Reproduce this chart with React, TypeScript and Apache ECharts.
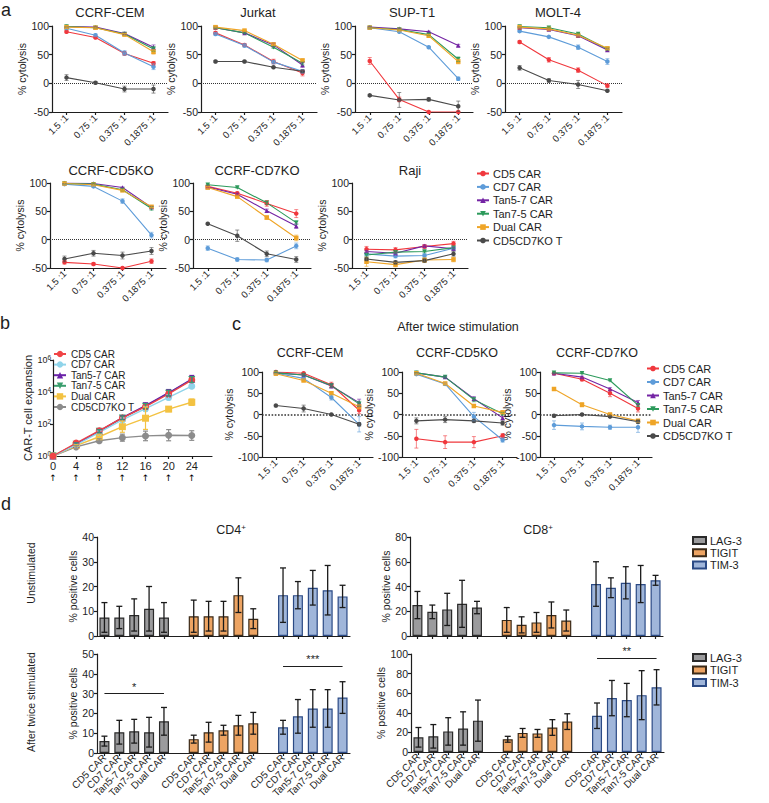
import React, { useEffect, useRef } from "react";
import * as echarts from "echarts";

const FONT = "'Liberation Sans', Arial, Helvetica, sans-serif";
const INK = "#1e1e1e";

// ---------- shared ----------
const ratios = ["1.5 :1", "0.75 :1", "0.375 :1", "0.1875 :1"];
const carGroups = ["CD5 CAR", "CD7 CAR", "Tan5-7 CAR", "Tan7-5 CAR", "Dual CAR", "CD5CD7KO T"];
const colorsA = ["#f0383d", "#5e9cd9", "#7424a4", "#2c9a5b", "#efa527", "#4a4a4a"];
const colorsB = ["#f04446", "#8fd4ea", "#6a22a8", "#3a9e6e", "#f3c242", "#8c8c8c"];
const lineSymbols = ["circle", "circle", "triangle", "triangle", "rect", "circle"];
const symbolRotations = [0, 0, 0, 180, 0, 0];

// ---------- panel a (% cytolysis, rows = carGroups, cols = ratios) ----------
const aCEM = [[90, 80, 52, 35], [96, 84, 53, 29], [99, 98, 87, 63], [99, 97, 86, 60], [98, 97, 85, 55], [10, 1, -10, -10]];
const aCEMErr = [[2, 2, 3, 3], [2, 2, 4, 5], [1, 1, 2, 4], [1, 1, 2, 4], [1, 1, 2, 4], [5, 2, 5, 7]];
const aJurkat = [[88, 67, 38, 18], [86, 66, 37, 21], [97, 88, 67, 32], [97, 88, 63, 35], [98, 92, 68, 40], [38, 38, 28, 21]];
const aJurkatErr = [[2, 2, 4, 5], [2, 3, 3, 3], [1, 1, 3, 4], [1, 1, 2, 3], [1, 1, 2, 2], [2, 2, 1, 2]];
const aSUPT1 = [[39, -28, -50, -50], [97, 90, 63, 8], [98, 95, 90, 66], [97, 94, 85, 42], [97, 93, 83, 38], [-21, -29, -28, -40]];
const aSUPT1Err = [[6, 4, 0, 0], [2, 1, 1, 3], [1, 1, 1, 2], [1, 1, 2, 4], [1, 1, 2, 4], [2, 13, 3, 9]];
const aMOLT4 = [[72, 41, 23, -4], [91, 81, 63, 38], [97, 94, 83, 58], [99, 97, 86, 60], [98, 95, 84, 61], [27, 5, -2, -13]];
const aMOLT4Err = [[2, 4, 4, 3], [1, 1, 4, 5], [1, 1, 1, 2], [1, 1, 1, 2], [1, 1, 1, 2], [4, 3, 7, 1]];
const aCD5KO = [[-40, -43, -50, -38], [98, 94, 68, 8], [100, 99, 92, 57], [99, 98, 88, 55], [99, 97, 87, 58], [-34, -24, -28, -20]];
const aCD5KOErr = [[3, 2, 1, 4], [1, 1, 4, 5], [1, 1, 1, 2], [1, 1, 2, 3], [1, 1, 1, 2], [5, 5, 6, 6]];
const aCD7KO = [[94, 82, 64, 46], [-15, -35, -36, -11], [93, 80, 51, 24], [97, 92, 65, 30], [92, 76, 39, 3], [28, 7, -25, -35]];
const aCD7KOErr = [[2, 2, 5, 7], [4, 3, 3, 5], [2, 2, 3, 4], [1, 1, 3, 3], [2, 2, 3, 5], [1, 10, 5, 5]];
const aRaji = [[-17, -18, -12, -7], [-25, -29, -28, -15], [-21, -24, -11, -16], [-27, -22, -21, -14], [-39, -44, -36, -35], [-34, -40, -37, -25]];
const aRajiErr = [[5, 4, 3, 4], [3, 3, 3, 3], [2, 2, 2, 2], [2, 2, 2, 2], [8, 4, 4, 4], [3, 3, 3, 4]];

// ---------- panel b (CAR-T cell expansion, fold) ----------
const bDays = [0, 4, 8, 12, 16, 20, 24];
const bExpansion = [
  [1, 6.5, 38, 240, 1200, 7500, 56000],
  [1, 5, 30, 180, 900, 4600, 23000],
  [1, 5.5, 36, 250, 1400, 9000, 65000],
  [1, 5.5, 35, 240, 1300, 8500, 60000],
  [1, 4.5, 16, 68, 230, 850, 2300],
  [1, 3.7, 9, 14, 18, 20, 19],
];
const bLogErr = [
  [0, 0.08, 0.1, 0.12, 0.15, 0.18, 0.15],
  [0, 0.06, 0.1, 0.12, 0.15, 0.15, 0.12],
  [0, 0.08, 0.1, 0.12, 0.18, 0.2, 0.22],
  [0, 0.08, 0.1, 0.12, 0.16, 0.18, 0.18],
  [0, 0.05, 0.15, 0.35, 0.7, 0.15, 0.2],
  [0, 0.08, 0.12, 0.22, 0.3, 0.35, 0.3],
];

// ---------- panel c (after twice stimulation) ----------
const cCEM = [[100, 97, 70, 10], [97, 85, 40, -23], [98, 93, 67, 28], [98, 93, 68, 25], [96, 80, 50, 18], [21, 14, 0, -23]];
const cCEMErr = [[2, 3, 6, 8], [2, 3, 6, 18], [1, 2, 5, 8], [1, 2, 4, 6], [1, 2, 3, 5], [3, 8, 1, 4]];
const cCD5KO = [[-57, -65, -65, -50], [95, 72, -5, -60], [98, 88, 37, -8], [98, 88, 35, 2], [97, 73, 20, 5], [-15, -12, -15, -20]];
const cCD5KOErr = [[22, 15, 13, 5], [2, 3, 10, 5], [1, 2, 5, 4], [1, 2, 5, 3], [1, 2, 3, 3], [7, 7, 4, 5]];
const cCD7KO = [[97, 83, 50, 14], [-25, -28, -30, -30], [97, 88, 60, 28], [98, 97, 80, 22], [60, 23, 0, -15], [-3, 0, -5, -17]];
const cCD7KOErr = [[2, 4, 8, 8], [10, 8, 5, 12], [1, 2, 3, 5], [1, 1, 1, 3], [2, 5, 3, 4], [3, 2, 2, 4]];

// ---------- panel d (% positive cells; rows = LAG-3, TIGIT, TIM-3) ----------
const dCats = ["CD5 CAR", "CD7 CAR", "Tan5-7 CAR", "Tan7-5 CAR", "Dual CAR"];
const dMarkers = ["LAG-3", "TIGIT", "TIM-3"];
const cd4UnMean = [[7.5, 7.5, 8.5, 11, 7.5], [8, 8, 8, 16.5, 7], [16.5, 16.5, 19.5, 18.5, 16]];
const cd4UnSD = [[6, 4.5, 6.5, 9, 6], [6.5, 6, 6, 7, 4], [11, 5.5, 7, 10, 4.5]];
const cd8UnMean = [[25, 19.5, 21.5, 26, 23], [13, 9, 11, 17, 12.5], [42, 39, 43, 42, 45]];
const cd8UnSD = [[11, 5.5, 13, 19, 5], [10, 6.5, 8, 10.5, 8.5], [18, 8, 13, 15, 4]];
const cd4AfMean = [[6, 10.5, 11, 10.5, 16], [7, 10.5, 11.5, 14, 15], [13, 18.5, 22.5, 22.5, 28]];
const cd4AfSD = [[2.5, 6, 6, 7.5, 7], [2, 5, 2.5, 5, 5.5], [3.5, 8.5, 9.5, 9.5, 8]];
const cd8AfMean = [[15, 16, 21, 24, 32], [13, 19.5, 19, 25, 31], [37, 55, 53, 58, 66]];
const cd8AfSD = [[10, 12, 14, 17, 21], [3, 4.5, 4, 8, 8], [13, 18, 17, 25, 18]];
const sigCD4After = [{ from: 0, to: 4, y: 30, text: "*" }, { from: 12, to: 16, y: 44, text: "***" }];
const sigCD8After = [{ from: 12, to: 16, y: 96, text: "**" }];

const barFill = ["#9b9b9d", "#eda463", "#a0b6da"];
const barBorder = ["#2a2a2a", "#3b2a18", "#2b4a85"];

function buildOption() {
  const grids: any[] = [];
  const xAxes: any[] = [];
  const yAxes: any[] = [];
  const series: any[] = [];
  const axLine = { color: INK, width: 1.2 };

  const addGrid = (left: number, top: number, width: number, height: number) => {
    grids.push({ left, top, width, height, containLabel: false, outerBoundsMode: "none" });
    return grids.length - 1;
  };

  const errSeries = (g: number, pts: number[][], color: string, cap: number, width: number) => ({
    type: "custom",
    xAxisIndex: g,
    yAxisIndex: g,
    data: pts.filter((p) => p[2] - p[1] > 0),
    clip: true,
    silent: true,
    z: 4,
    encode: { x: 0, y: [1, 2] },
    renderItem: (_params: any, api: any) => {
      const x = api.value(0);
      const a = api.coord([x, api.value(2)]);
      const b = api.coord([x, api.value(1)]);
      const st = { stroke: color, lineWidth: width };
      return {
        type: "group",
        children: [
          { type: "line", shape: { x1: a[0], y1: a[1], x2: b[0], y2: b[1] }, style: st },
          { type: "line", shape: { x1: a[0] - cap, y1: a[1], x2: a[0] + cap, y2: a[1] }, style: st },
          { type: "line", shape: { x1: b[0] - cap, y1: b[1], x2: b[0] + cap, y2: b[1] }, style: st },
        ],
      };
    },
  });

  const valueY = (g: number, min: number, max: number, interval: number, name: string, nameGap: number) => ({
    type: "value",
    gridIndex: g,
    min,
    max,
    interval,
    name,
    nameLocation: "middle",
    nameGap,
    nameRotate: 90,
    nameTextStyle: { fontSize: 10.5, color: INK, fontFamily: FONT },
    axisLine: { show: true, lineStyle: axLine },
    axisTick: { show: true, length: 3, lineStyle: axLine },
    axisLabel: { fontSize: 10.5, color: INK, margin: 3, fontFamily: FONT },
    splitLine: { show: false },
  });

  const cytoPanel = (
    left: number, top: number, width: number, height: number, yMin: number,
    vals: number[][], errs: number[][], nameGap: number, zeroWidth: number
  ) => {
    const g = addGrid(left, top, width, height);
    xAxes.push({
      type: "category",
      gridIndex: g,
      data: ratios,
      boundaryGap: true,
      axisLine: { onZero: false, lineStyle: axLine },
      axisTick: { show: true, alignWithLabel: true, length: 3, lineStyle: axLine },
      axisLabel: { rotate: 45, interval: 0, fontSize: 9.5, color: INK, margin: 4, fontFamily: FONT },
      splitLine: { show: false },
    });
    yAxes.push(valueY(g, yMin, 100, 50, "% cytolysis", nameGap));
    vals.forEach((row, j) => {
      series.push({
        type: "line",
        name: carGroups[j],
        xAxisIndex: g,
        yAxisIndex: g,
        data: row,
        symbol: lineSymbols[j],
        symbolRotate: symbolRotations[j],
        symbolSize: 4.5,
        itemStyle: { color: colorsA[j] },
        lineStyle: { color: colorsA[j], width: 1.1 },
        z: 3,
        markLine: j === 0 ? {
          silent: true,
          symbol: ["none", "none"],
          label: { show: false },
          lineStyle: { type: "dotted", color: "#333", width: zeroWidth },
          data: [{ yAxis: 0 }],
          z: 1,
        } : undefined,
      });
      series.push(errSeries(g, row.map((v, i) => [i, v - errs[j][i], v + errs[j][i]]), colorsA[j] + "99", 2, 1));
    });
  };

  // panel a
  cytoPanel(52, 26, 116, 86, -50, aCEM, aCEMErr, 19, 1);
  cytoPanel(201, 26, 116, 86, -50, aJurkat, aJurkatErr, 19, 1);
  cytoPanel(355, 26, 118, 86, -50, aSUPT1, aSUPT1Err, 19, 1);
  cytoPanel(505, 26, 117, 86, -50, aMOLT4, aMOLT4Err, 19, 1);
  cytoPanel(50, 183, 116, 85, -50, aCD5KO, aCD5KOErr, 19, 1);
  cytoPanel(193, 183, 118, 85, -50, aCD7KO, aCD7KOErr, 19, 1);
  cytoPanel(352, 183, 116, 85, -50, aRaji, aRajiErr, 19, 1);

  // panel b
  const gb = addGrid(53, 360, 159, 96);
  xAxes.push({
    type: "value",
    gridIndex: gb,
    min: 0,
    max: 27.5,
    interval: 4,
    axisLine: { onZero: false, lineStyle: axLine },
    axisTick: { show: true, length: 3, lineStyle: axLine, customValues: bDays },
    axisLabel: {
      customValues: bDays,
      color: INK,
      margin: 3,
      formatter: (v: number) => `{n|${v}}\n{a|↑}`,
      rich: {
        n: { fontSize: 11, lineHeight: 13, color: INK },
        a: { fontSize: 9, lineHeight: 12, color: "#000", fontFamily: "'DejaVu Sans', sans-serif" },
      },
    },
    splitLine: { show: false },
  });
  yAxes.push({
    type: "log",
    logBase: 100,
    gridIndex: gb,
    min: 1,
    max: 1e6,
    name: "CAR-T cell expansion",
    nameLocation: "middle",
    nameGap: 17,
    nameRotate: 90,
    nameTextStyle: { fontSize: 11, color: INK, fontFamily: FONT },
    axisLine: { show: true, lineStyle: axLine },
    axisTick: { show: true, length: 3, lineStyle: axLine },
    minorTick: { show: false },
    axisLabel: {
      color: INK,
      margin: 2,
      fontSize: 9,
      formatter: (v: number) => `10{s|${Math.round(Math.log10(v))}}`,
      rich: { s: { fontSize: 6.5, verticalAlign: "top", color: INK, padding: [0, 0, 5, 0] } },
    },
    splitLine: { show: false },
  });
  bExpansion.forEach((row, j) => {
    series.push({
      type: "line",
      name: carGroups[j],
      xAxisIndex: gb,
      yAxisIndex: gb,
      data: row.map((v, i) => [bDays[i], v]),
      symbol: lineSymbols[j],
      symbolRotate: symbolRotations[j],
      symbolSize: 7,
      itemStyle: { color: colorsB[j] },
      lineStyle: { color: colorsB[j], width: 1.4 },
      z: 3 + (5 - j) * 0.01,
    });
    series.push(
      errSeries(
        gb,
        row.map((v, i) => [bDays[i], v / Math.pow(10, bLogErr[j][i]), v * Math.pow(10, bLogErr[j][i])]),
        colorsB[j],
        2.5,
        1.2
      )
    );
  });

  // panel c
  cytoPanel(262, 372, 111, 85, -100, cCEM, cCEMErr, 18, 1.6);
  cytoPanel(402, 372, 115, 85, -100, cCD5KO, cCD5KOErr, 18, 1.6);
  cytoPanel(540, 372, 112, 85, -100, cCD7KO, cCD7KOErr, 18, 1.6);

  // panel d
  const barSlots: string[] = [...dCats, "", ...dCats, "", ...dCats];
  const barPanel = (
    left: number, top: number, width: number, height: number, yMax: number, yInterval: number,
    means: number[][], sds: number[][], showLabels: boolean, nameGap: number, sig: any[]
  ) => {
    const g = addGrid(left, top, width, height);
    xAxes.push({
      type: "category",
      gridIndex: g,
      data: barSlots,
      boundaryGap: true,
      axisLine: { onZero: false, lineStyle: axLine },
      axisTick: { show: true, alignWithLabel: true, length: 3, lineStyle: axLine, interval: (_i: number, v: string) => v !== "" },
      axisLabel: {
        show: showLabels,
        rotate: 45,
        interval: (_i: number, v: string) => v !== "",
        fontSize: 10,
        color: INK,
        margin: 3,
        fontFamily: FONT,
      },
      splitLine: { show: false },
    });
    yAxes.push(valueY(g, 0, yMax, yInterval, "% positive cells", nameGap));
    dMarkers.forEach((m, k) => {
      const data: any[] = barSlots.map(() => "-");
      means[k].forEach((v, i) => { data[k * 6 + i] = v; });
      series.push({
        type: "bar",
        name: m,
        xAxisIndex: g,
        yAxisIndex: g,
        data,
        barWidth: 10,
        barGap: "-100%",
        itemStyle: { color: barFill[k], borderColor: barBorder[k], borderWidth: 1.2 },
        z: 2,
        markLine: k === 0 && sig.length ? {
          silent: true,
          symbol: ["none", "none"],
          lineStyle: { type: "solid", color: INK, width: 1.2 },
          label: { show: true, position: "middle", color: INK, fontSize: 11, distance: 1, formatter: (p: any) => p.data.text ?? "" },
          data: sig.map((s) => [
            { coord: [s.from, s.y], text: s.text },
            { coord: [s.to, s.y] },
          ]),
        } : undefined,
      });
    });
    const pts: number[][] = [];
    means.forEach((row, k) => row.forEach((v, i) => pts.push([k * 6 + i, Math.max(0, v - sds[k][i]), v + sds[k][i]])));
    series.push(errSeries(g, pts, "#1a1a1a", 3, 1.3));
  };
  barPanel(97, 537, 253, 99, 40, 10, cd4UnMean, cd4UnSD, false, 17, []);
  barPanel(410, 537, 253, 99, 80, 20, cd8UnMean, cd8UnSD, false, 17, []);
  barPanel(97, 654, 253, 99, 50, 10, cd4AfMean, cd4AfSD, true, 17, sigCD4After);
  barPanel(411, 654, 253, 98, 100, 20, cd8AfMean, cd8AfSD, true, 17, sigCD8After);

  const txt = (text: string, x: number, y: number, fontSize: number, extra: any = {}) => ({
    type: "text",
    x,
    y,
    rotation: extra.rotation || 0,
    silent: true,
    style: {
      text,
      fontSize,
      fontFamily: FONT,
      fill: INK,
      align: extra.align || "center",
      textAlign: extra.align || "center",
      verticalAlign: "middle",
      textVerticalAlign: "middle",
      rich: extra.rich,
    },
  });

  const supRich = {
    b: { fontSize: 12.5, fill: INK, fontFamily: FONT },
    s: { fontSize: 8, verticalAlign: "top", fill: INK, fontFamily: FONT },
  };

  const graphic = [
    txt("a", 1, 10, 18, { align: "left" }),
    txt("b", 0, 323, 18, { align: "left" }),
    txt("c", 232, 324, 18, { align: "left" }),
    txt("d", 1, 504, 18, { align: "left" }),
    txt("CCRF-CEM", 110, 12, 13),
    txt("Jurkat", 258, 12, 13),
    txt("SUP-T1", 412, 12, 13),
    txt("MOLT-4", 558, 12, 13),
    txt("CCRF-CD5KO", 111, 170, 13),
    txt("CCRF-CD7KO", 257, 170, 13),
    txt("Raji", 410, 170, 13),
    txt("After twice stimulation", 458, 327, 12.5),
    txt("CCRF-CEM", 310, 353, 12.5),
    txt("CCRF-CD5KO", 457, 353, 12.5),
    txt("CCRF-CD7KO", 597, 353, 12.5),
    txt("{b|CD4}{s|+}", 231, 530, 12.5, { rich: supRich }),
    txt("{b|CD8}{s|+}", 538, 530, 12.5, { rich: supRich }),
    txt("Unstimulated", 31, 573, 10.5, { rotation: Math.PI / 2 }),
    txt("After twice stimulated", 31, 702, 10.5, { rotation: Math.PI / 2 }),
  ];

  const legBase = {
    orient: "vertical",
    padding: 0,
    itemWidth: 12,
    itemHeight: 7,
    selectedMode: false,
    textStyle: { fontSize: 11, color: INK, fontFamily: FONT, padding: [0, 0, 0, -1] },
  };

  const legend = [
    { ...legBase, left: 476, top: 168, itemGap: 2.4, data: carGroups },
    {
      ...legBase,
      left: 53,
      top: 349,
      itemGap: 0.6,
      itemHeight: 8,
      textStyle: { fontSize: 10, color: INK, fontFamily: FONT },
      data: carGroups.map((n, j) => ({ name: n, itemStyle: { color: colorsB[j] }, lineStyle: { color: colorsB[j] } })),
    },
    { ...legBase, left: 646, top: 363, itemGap: 2.5, data: carGroups },
    { ...legBase, left: 692, top: 535, itemGap: 1.2, icon: "rect", itemWidth: 13, itemHeight: 7, data: dMarkers },
    { ...legBase, left: 692, top: 652, itemGap: 1.5, icon: "rect", itemWidth: 13, itemHeight: 7, data: dMarkers },
  ];

  return {
    animation: false,
    backgroundColor: "#ffffff",
    textStyle: { fontFamily: FONT },
    grid: grids,
    xAxis: xAxes,
    yAxis: yAxes,
    series,
    legend,
    graphic,
  };
}

export default function App() {
  const ref = useRef<HTMLDivElement>(null);
  useEffect(() => {
    const chart = echarts.init(ref.current!, null, { renderer: "svg" });
    chart.setOption(buildOption() as any);
    return () => chart.dispose();
  }, []);
  return (
    <div
      ref={ref}
      style={{ position: "absolute", left: 0, top: 0, width: 769, height: 803, background: "#fff" }}
    />
  );
}
